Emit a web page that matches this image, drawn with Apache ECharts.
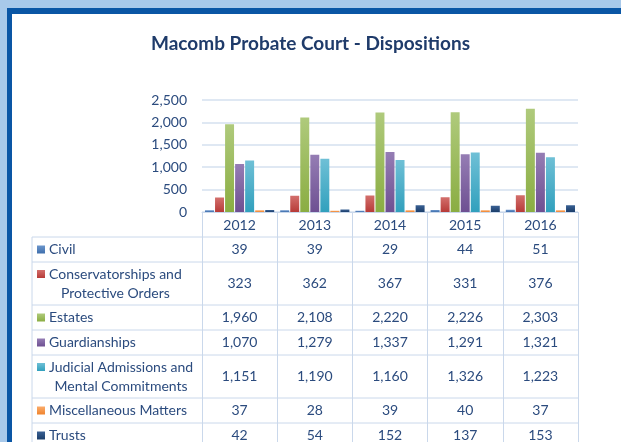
<!DOCTYPE html>
<html>
<head>
<meta charset="utf-8">
<script src="https://cdn.jsdelivr.net/npm/echarts@6/dist/echarts.min.js"></script>
<style>
html, body { margin: 0; padding: 0; background: #fff; }
#chart { width: 621px; height: 442px; }
</style>
</head>
<body>
<div id="chart"></div>
<script>
// data
var years = ['2012', '2013', '2014', '2015', '2016'];
var rowLabels = ['Civil', 'Conservatorships and\nProtective Orders', 'Estates', 'Guardianships',
    'Judicial Admissions and\nMental Commitments', 'Miscellaneous Matters', 'Trusts'];
var civil = [39, 39, 29, 44, 51];
var conservatorships = [323, 362, 367, 331, 376];
var estates = [1960, 2108, 2220, 2226, 2303];
var guardianships = [1070, 1279, 1337, 1291, 1321];
var judicial = [1151, 1190, 1160, 1326, 1223];
var miscellaneous = [37, 28, 39, 40, 37];
var trusts = [42, 54, 152, 137, 153];
var yTicks = [0, 500, 1000, 1500, 2000, 2500];

var seriesData = [civil, conservatorships, estates, guardianships, judicial, miscellaneous, trusts];
var colors = [
    ['#6b95cb', '#3f6fad'],
    ['#d36f6c', '#b73b38'],
    ['#afca7c', '#8aad42'],
    ['#957db4', '#6e5092'],
    ['#6fc0d6', '#31a0bd'],
    ['#faab6b', '#f0842d'],
    ['#3a6194', '#1b3e6b']
];
var textColor = '#2b4b7e';
var font = 'Lato, "Open Sans", sans-serif';
var lineColor = '#cad8eb';

var myChart = echarts.init(document.getElementById('chart'));

function fmt(v) {
    return v.toLocaleString('en-US');
}

var series = [];
for (var i = 0; i < seriesData.length; i++) {
    series.push({
        name: rowLabels[i].replace('\n', ' '),
        type: 'bar',
        data: seriesData[i],
        barGap: '12%',
        barCategoryGap: '8%',
        itemStyle: {
            color: new echarts.graphic.LinearGradient(0, 0, 0, 1, [
                { offset: 0, color: colors[i][0] },
                { offset: 1, color: colors[i][1] }
            ])
        }
    });
}

myChart.setOption({
    animation: false,
    title: {
        text: 'Macomb Probate Court - Dispositions',
        left: 'center',
        top: 29,
        textStyle: { color: '#1f3b6a', fontSize: 19, fontWeight: 'bold', fontFamily: font }
    },
    grid: { left: 202, right: 43, top: 100, bottom: 230 },
    xAxis: {
        type: 'category',
        data: years,
        axisLine: { lineStyle: { color: lineColor, width: 1 } },
        axisTick: { show: true, length: 236, lineStyle: { color: lineColor } },
        axisLabel: { color: textColor, fontSize: 14, fontFamily: font, margin: 13, verticalAlign: 'middle' }
    },
    yAxis: {
        type: 'value',
        min: yTicks[0],
        max: yTicks[yTicks.length - 1],
        interval: 500,
        axisLine: { show: false },
        axisTick: { show: false },
        splitLine: { lineStyle: { color: '#dfe8f3', width: 2 } },
        axisLabel: { color: textColor, fontSize: 14, fontFamily: font, margin: 15, formatter: fmt }
    },
    series: series
});

// data table under the axis
var rowHeights = [25, 43, 25, 25, 43, 25, 25];
var tableTop = 237;
var tableLeft = 32;
var tableRight = 578;
var keyX = 37;
var textX = 49;

var ctx = document.createElement('canvas').getContext('2d');
ctx.font = '14px ' + font;

var centers = years.map(function (y) {
    return myChart.convertToPixel({ xAxisIndex: 0 }, y);
});

var graphics = [
    { type: 'rect', z: -100, shape: { x: 0, y: 0, width: 621, height: 442 }, style: { fill: '#a8c9ea' } },
    { type: 'rect', z: -99, shape: { x: 7, y: 8, width: 614, height: 434 }, style: { fill: '#0a56a5' } },
    { type: 'rect', z: -98, shape: { x: 12, y: 14, width: 609, height: 428 }, style: { fill: '#ffffff' } }
];

var y = tableTop;
graphics.push({ type: 'line', shape: { x1: tableLeft, y1: y, x2: tableRight, y2: y }, style: { stroke: lineColor } });
for (var r = 0; r < rowLabels.length; r++) {
    var h = rowHeights[r];
    var mid = y + h / 2;
    var lines = rowLabels[r].split('\n');
    var firstMid = lines.length > 1 ? mid - 9.5 : mid;
    graphics.push({
        type: 'rect',
        shape: { x: keyX, y: firstMid - 4, width: 8, height: 8 },
        style: { fill: new echarts.graphic.LinearGradient(0, 0, 0, 1, [
            { offset: 0, color: colors[r][0] }, { offset: 1, color: colors[r][1] }
        ]) }
    });
    if (lines.length > 1) {
        var w = ctx.measureText(lines[0]).width;
        graphics.push({
            type: 'text',
            x: textX + w / 2,
            y: mid,
            style: {
                text: rowLabels[r], fill: textColor, font: '14px ' + font,
                textAlign: 'center', textVerticalAlign: 'middle', lineHeight: 19
            }
        });
    } else {
        graphics.push({
            type: 'text', x: textX, y: mid,
            style: { text: rowLabels[r], fill: textColor, font: '14px ' + font, textAlign: 'left', textVerticalAlign: 'middle' }
        });
    }
    for (var c = 0; c < years.length; c++) {
        graphics.push({
            type: 'text', x: centers[c], y: mid,
            style: { text: fmt(seriesData[r][c]), fill: textColor, font: '14px ' + font, textAlign: 'center', textVerticalAlign: 'middle' }
        });
    }
    y += h;
    graphics.push({ type: 'line', shape: { x1: tableLeft, y1: y, x2: tableRight, y2: y }, style: { stroke: lineColor } });
}
graphics.push({ type: 'line', shape: { x1: tableLeft, y1: tableTop, x2: tableLeft, y2: y }, style: { stroke: lineColor } });

myChart.setOption({ graphic: graphics });
</script>
</body>
</html>
